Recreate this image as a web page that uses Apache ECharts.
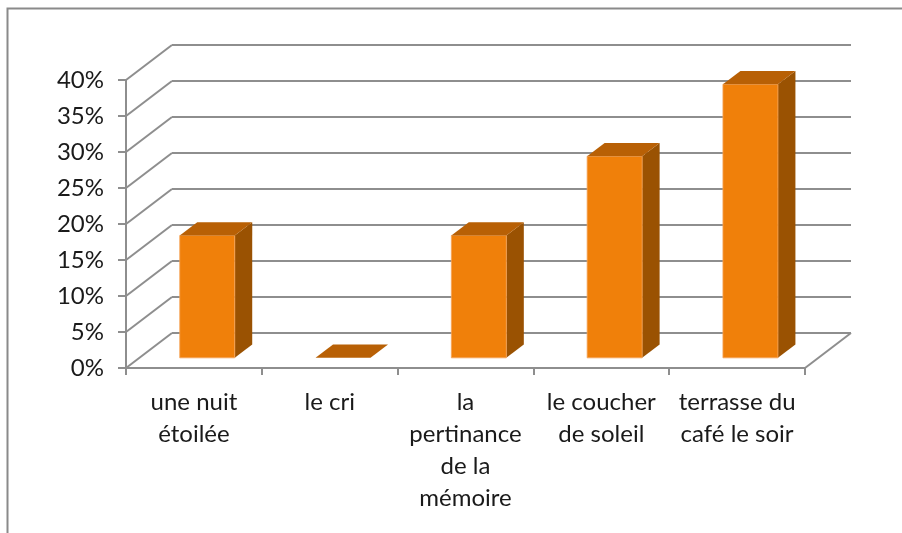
<!DOCTYPE html>
<html>
<head>
<meta charset="utf-8">
<script src="https://cdn.jsdelivr.net/npm/echarts@6/dist/echarts.min.js"></script>
<style>
  html, body { margin: 0; padding: 0; background: #fff; }
  #main { width: 902px; height: 533px; }
</style>
</head>
<body>
<div id="main"></div>
<script>
// données du graphique
var categories = ['une nuit étoilée', 'le cri', 'la pertinance de la mémoire', 'le coucher de soleil', 'terrasse du café le soir'];
var values = [17, 0, 17, 28, 38];
var yTicks = [0, 5, 10, 15, 20, 25, 30, 35, 40];

// profondeur du "3D" (décalage du mur du fond)
var DEPTH_X = 46, DEPTH_Y = -35;
var BAR_FRONT = 0.29, BAR_DEPTH = 0.38;
var gridColor = '#8e8e8e';
var fontFam = 'Lato, "Liberation Sans", sans-serif';

// coupe les libellés comme dans Excel
function wrap(s, max) {
    var words = s.split(' '), lines = [], cur = '';
    words.forEach(function (w) {
        if (cur && (cur + ' ' + w).length > max) { lines.push(cur); cur = w; }
        else { cur = cur ? cur + ' ' + w : w; }
    });
    lines.push(cur);
    return lines.join('\n');
}

var myChart = echarts.init(document.getElementById('main'));

var option = {
    backgroundColor: '#fff',
    animation: false,
    graphic: [{
        type: 'rect',
        shape: { x: 7.5, y: 8.5, width: 1000, height: 1000 },
        style: { fill: 'none', stroke: '#8a8a8a', lineWidth: 2 },
        silent: true
    }],
    grid: [
        { left: 126, right: 97, top: 80, bottom: 165 },
        // mur du fond
        { left: 126 + DEPTH_X, right: 97 - DEPTH_X, top: 80 + DEPTH_Y, bottom: 165 - DEPTH_Y }
    ],
    xAxis: [{
        type: 'category',
        gridIndex: 0,
        data: categories,
        axisLine: { lineStyle: { color: gridColor, width: 2 } },
        axisTick: { show: true, length: 7, lineStyle: { color: gridColor, width: 2 } },
        axisLabel: {
            interval: 0,
            margin: 18,
            color: '#1a1a1a',
            fontFamily: fontFam,
            fontSize: 24,
            lineHeight: 32,
            formatter: function (v) { return wrap(v, 12); }
        }
    }, {
        type: 'category',
        gridIndex: 1,
        data: categories,
        show: false
    }],
    yAxis: [{
        type: 'value',
        gridIndex: 0,
        min: 0, max: 40, interval: 5,
        splitLine: { show: false },
        axisLine: { show: true, lineStyle: { color: gridColor, width: 2 } },
        axisTick: { show: true, length: 8, lineStyle: { color: gridColor, width: 2 } },
        axisLabel: {
            margin: 22,
            color: '#1a1a1a',
            fontFamily: fontFam,
            fontSize: 24,
            formatter: '{value}%'
        }
    }, {
        type: 'value',
        gridIndex: 1,
        min: 0, max: 40, interval: 5,
        axisLine: { show: false },
        axisTick: { show: false },
        axisLabel: { show: false },
        splitLine: { show: true, lineStyle: { color: gridColor, width: 2 } }
    }],
    series: [{
        // lignes obliques du mur de gauche et du sol
        type: 'custom',
        xAxisIndex: 0, yAxisIndex: 0,
        silent: true,
        z: 1,
        data: yTicks.map(function (t) { return [0, t]; }),
        renderItem: function (params, api) {
            var cs = params.coordSys;
            var p = api.coord([0, api.value(1)]);
            var st = { stroke: gridColor, lineWidth: 2 };
            var kids = [{
                type: 'line',
                shape: { x1: cs.x, y1: p[1], x2: cs.x + DEPTH_X, y2: p[1] + DEPTH_Y },
                style: st
            }];
            if (api.value(1) === 0) {
                kids.push({
                    type: 'line',
                    shape: { x1: cs.x + cs.width, y1: p[1], x2: cs.x + cs.width + DEPTH_X, y2: p[1] + DEPTH_Y },
                    style: st
                });
            }
            return { type: 'group', children: kids };
        }
    }, {
        // barres 3D
        type: 'custom',
        xAxisIndex: 0, yAxisIndex: 0,
        z: 5,
        data: values.map(function (v, i) { return [i, v]; }),
        renderItem: function (params, api) {
            var i = api.value(0), v = api.value(1);
            var base = api.coord([i, 0]);
            var top = api.coord([i, v]);
            var band = api.size([1, 0])[0];
            var w = band * 0.405;
            var ox = DEPTH_X * BAR_FRONT, oy = DEPTH_Y * BAR_FRONT;
            var dx = DEPTH_X * BAR_DEPTH, dy = DEPTH_Y * BAR_DEPTH;
            var x0 = base[0] - w / 2 + ox, x1 = x0 + w;
            var yb = base[1] + oy, yt = top[1] + oy;
            var kids = [];
            if (v > 0) {
                kids.push({
                    type: 'polygon',
                    shape: { points: [[x1, yt], [x1 + dx, yt + dy], [x1 + dx, yb + dy], [x1, yb]] },
                    style: { fill: '#9a5202' }
                });
                kids.push({
                    type: 'rect',
                    shape: { x: x0, y: yt, width: w, height: yb - yt },
                    style: { fill: '#f0800a', stroke: '#f5a55a', lineWidth: 0.8 }
                });
            }
            kids.push({
                type: 'polygon',
                shape: { points: [[x0, yt], [x1, yt], [x1 + dx, yt + dy], [x0 + dx, yt + dy]] },
                style: { fill: '#b86005' }
            });
            return { type: 'group', children: kids };
        }
    }]
};

myChart.setOption(option);
</script>
</body>
</html>
